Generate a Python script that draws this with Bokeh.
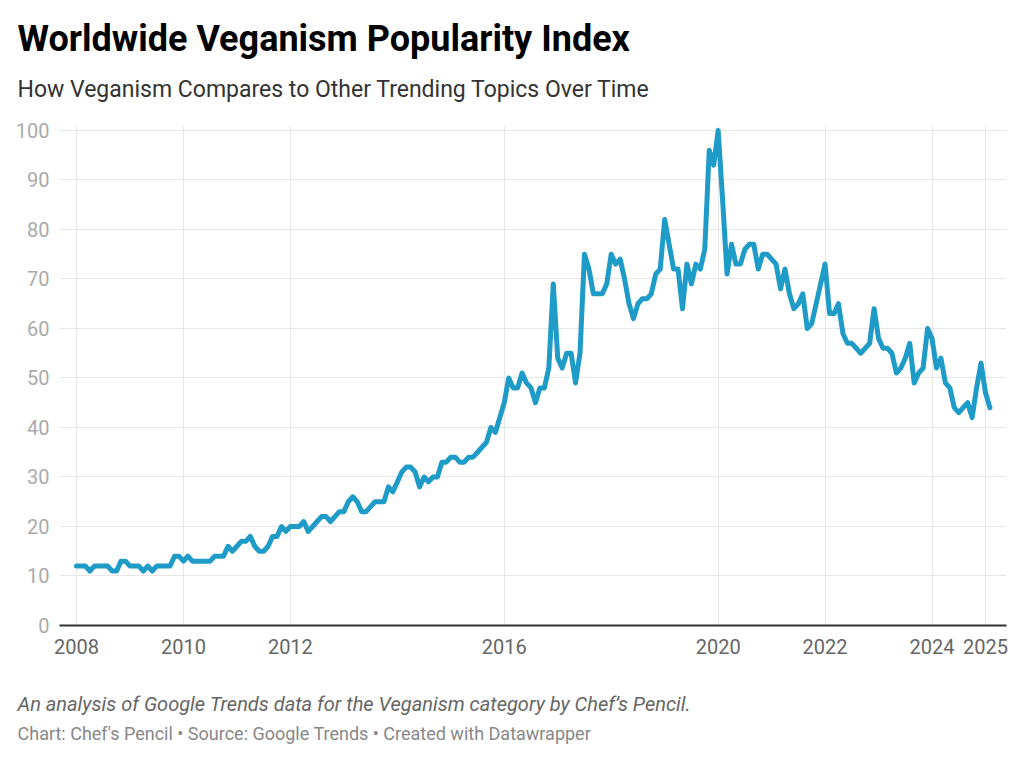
from bokeh.plotting import figure
from bokeh.models import Range1d, FixedTicker, Title
from bokeh.embed import file_html
from bokeh.resources import INLINE

# Monthly Google Trends index, Jan 2008 .. Feb 2025
start_year = 2008
v2008 = [12, 12, 12, 11, 12, 12, 12, 12, 11, 11, 13, 13]
v2009 = [12, 12, 12, 11, 12, 11, 12, 12, 12, 12, 14, 14]
v2010 = [13, 14, 13, 13, 13, 13, 13, 14, 14, 14, 16, 15]
v2011 = [16, 17, 17, 18, 16, 15, 15, 16, 18, 18, 20, 19]
v2012 = [20, 20, 20, 21, 19, 20, 21, 22, 22, 21, 22, 23]
v2013 = [23, 25, 26, 25, 23, 23, 24, 25, 25, 25, 28, 27]
v2014 = [29, 31, 32, 32, 31, 28, 30, 29, 30, 30, 33, 33]
v2015 = [34, 34, 33, 33, 34, 34, 35, 36, 37, 40, 39, 42]
v2016 = [45, 50, 48, 48, 51, 49, 48, 45, 48, 48, 52, 69]
v2017 = [54, 52, 55, 55, 49, 55, 75, 72, 67, 67, 67, 69]
v2018 = [75, 73, 74, 70, 65, 62, 65, 66, 66, 67, 71, 72]
v2019 = [82, 77, 72, 72, 64, 73, 69, 73, 72, 76, 96, 93]
v2020 = [100, 86, 71, 77, 73, 73, 76, 77, 77, 72, 75, 75]
v2021 = [74, 73, 68, 72, 67, 64, 65, 67, 60, 61, 65, 69]
v2022 = [73, 63, 63, 65, 59, 57, 57, 56, 55, 56, 57, 64]
v2023 = [58, 56, 56, 55, 51, 52, 54, 57, 49, 51, 52, 60]
v2024 = [58, 52, 54, 49, 48, 44, 43, 44, 45, 42, 48, 53]
v2025 = [47, 44]

values = (v2008 + v2009 + v2010 + v2011 + v2012 + v2013 + v2014 + v2015 + v2016
          + v2017 + v2018 + v2019 + v2020 + v2021 + v2022 + v2023 + v2024 + v2025)
dates = [start_year + i / 12 for i in range(len(values))]

x_ticks = [2008, 2010, 2012, 2016, 2020, 2022, 2024, 2025]
y_ticks = [0, 10, 20, 30, 40, 50, 60, 70, 80, 90, 100]

title = "Worldwide Veganism Popularity Index"
subtitle = "How Veganism Compares to Other Trending Topics Over Time"
notes = "An analysis of Google Trends data for the Veganism category by Chef\u2019s Pencil."
footer = "Chart: Chef's Pencil \u2022 Source: Google Trends \u2022 Created with Datawrapper"

FONT = "Roboto"

p = figure(width=1024, height=761, output_backend="svg", toolbar_location=None,
           x_range=Range1d(2007.682, 2025.393), y_range=Range1d(0, 101),
           min_border_left=59, min_border_right=18, min_border_top=125,
           min_border_bottom=136)
p.outline_line_color = None
p.background_fill_color = "white"
p.border_fill_color = "white"

# axes
p.yaxis.ticker = FixedTicker(ticks=y_ticks)
p.yaxis.axis_line_color = None
p.yaxis.major_tick_line_color = None
p.yaxis.minor_tick_line_color = None
p.yaxis.major_tick_out = 0
p.yaxis.major_tick_in = 0
p.yaxis.major_label_standoff = 10
p.yaxis.major_label_text_font = FONT
p.yaxis.major_label_text_font_size = "20px"
p.yaxis.major_label_text_color = "#aaaaaa"

p.xaxis.ticker = FixedTicker(ticks=x_ticks)
p.xaxis.axis_line_color = "#333333"
p.xaxis.axis_line_width = 2
p.xaxis.major_tick_line_color = None
p.xaxis.minor_tick_line_color = None
p.xaxis.major_tick_out = 0
p.xaxis.major_tick_in = 0
p.xaxis.major_label_standoff = 13
p.xaxis.major_label_text_font = FONT
p.xaxis.major_label_text_font_size = "20px"
p.xaxis.major_label_text_color = "#666666"

p.xgrid.grid_line_color = "#e6e6e6"
p.ygrid.grid_line_color = "#e6e6e6"
p.xgrid.grid_line_width = 1
p.ygrid.grid_line_width = 1

p.line(dates, values, line_color="#1f9bc8", line_width=5,
       line_join="round", line_cap="round")

# above panels (first added sits closest to the frame)
p.add_layout(Title(text=" ", text_font_size="1px", standoff=20), "above")
p.add_layout(Title(text=subtitle, align="left", offset=-42, standoff=0,
                   vertical_align="bottom",
                   text_font=FONT, text_font_size="23px", text_font_style="normal",
                   text_color="#333333"), "above")
p.add_layout(Title(text=title, align="left", offset=-42, standoff=27,
                   vertical_align="bottom",
                   text_font=FONT, text_font_size="36px", text_font_style="bold",
                   text_color="#000000"), "above")

# below panels (after the x axis)
p.add_layout(Title(text=" ", text_font_size="1px", standoff=32), "below")
p.add_layout(Title(text=notes, align="left", offset=-42, standoff=0,
                   vertical_align="top",
                   text_font=FONT, text_font_size="20px", text_font_style="italic",
                   text_color="#666666"), "below")
p.add_layout(Title(text=footer, align="left", offset=-42, standoff=11,
                   vertical_align="top",
                   text_font=FONT, text_font_size="18px", text_font_style="normal",
                   text_color="#888888"), "below")

open("out.html", "w").write(file_html(p, INLINE))
